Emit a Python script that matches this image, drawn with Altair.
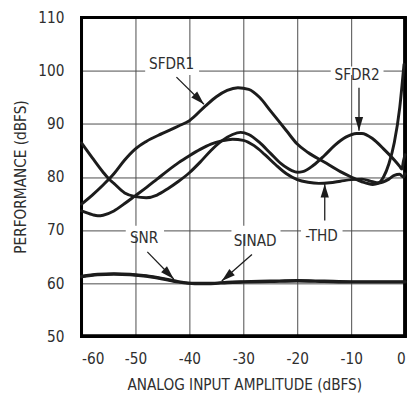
import altair as alt
import pandas as pd

FONT = "DejaVu Sans Condensed, Liberation Sans, sans-serif"
INK = "#1c1c1c"
TXT = "#2e2e2e"
FS = 15.5

# ---- series data ----
sfdr1_x = [-60, -58, -56, -54, -52, -50, -48, -45, -42, -40, -37, -35, -33, -31, -29, -27, -25, -22, -20, -18, -15, -12, -10, -8, -6, -5, -4, -3, -2, -1, -0.5, -0.2]
sfdr1_y = [74.9, 76.6, 78.5, 80.6, 83.2, 85.3, 86.7, 88.2, 89.6, 90.6, 93.4, 95.1, 96.3, 96.8, 96.5, 95.0, 92.5, 88.7, 86.2, 84.6, 82.8, 81.0, 80.0, 79.1, 78.6, 78.8, 80.0, 82.5, 86.5, 93.0, 98.0, 101.2]

sfdr2_x = [-60, -58, -56, -55, -54, -52, -50, -48, -46, -44, -42, -40, -38, -36, -34, -32, -30.5, -29, -27, -25, -23, -21, -20, -19, -17, -15, -13, -11, -9, -8, -6, -4, -2, -1, -0.6, -0.3, 0]
sfdr2_y = [86.4, 83.6, 80.9, 79.7, 78.8, 77.0, 76.3, 76.1, 76.6, 77.8, 79.2, 80.8, 82.8, 85.0, 86.8, 88.0, 88.4, 88.0, 86.5, 84.5, 82.5, 81.2, 80.9, 81.0, 82.2, 84.0, 86.0, 87.5, 88.2, 88.2, 87.2, 85.3, 83.2, 82.0, 81.5, 83.0, 84.2]

thd_x = [-60, -58, -57, -56, -54, -52, -50, -48, -46, -44, -42, -40, -38, -36, -34, -32, -30, -28, -26, -24, -22, -20, -18, -16, -14, -12, -10, -8, -6, -5, -3, -2, -1, -0.3, 0]
thd_y = [73.6, 72.9, 72.7, 72.8, 73.6, 75.0, 76.5, 78.0, 79.6, 81.2, 82.7, 84.0, 85.2, 86.2, 86.8, 87.1, 86.9, 85.9, 84.2, 82.3, 80.6, 79.5, 79.0, 78.8, 78.9, 79.2, 79.5, 79.6, 79.1, 78.9, 79.6, 80.3, 80.5, 80.0, 80.6]

snr_x = [-60, -57, -54, -51, -48, -45, -42, -39, -36, -33, -30, -25, -20, -15, -10, -5, 0]
snr_y = [61.3, 61.7, 61.8, 61.7, 61.4, 60.9, 60.3, 60.0, 60.0, 60.2, 60.3, 60.4, 60.5, 60.4, 60.3, 60.3, 60.3]
sinad_y = [61.2, 61.6, 61.7, 61.6, 61.3, 60.8, 60.2, 59.9, 59.9, 60.1, 60.2, 60.3, 60.4, 60.3, 60.2, 60.2, 60.2]

# ---- annotations (data units) ----
lab_text = ["SFDR1", "SFDR2", "SNR", "SINAD", "-THD"]
lab_x = [-43.3, -8.9, -48.4, -27.8, -15.5]
lab_y = [101.3, 99.2, 68.5, 67.9, 68.8]
gap_x1 = [-48.2, -13.8, -51.8, -32.2, -19.3]
gap_x2 = [-38.2, -4.0, -44.7, -23.1, -11.6]
gap_y1 = [99.2, 99.2, 69.2, 69.2, 69.2]
gap_y2 = [100.8, 100.8, 70.8, 70.8, 70.8]
arr_x1 = [-42.4, -8.55, -47.8, -28.4, -14.9]
arr_y1 = [98.8, 96.8, 65.9, 65.4, 71.8]
arr_x2 = [-37.3, -8.55, -42.9, -34.0, -14.9]
arr_y2 = [93.7, 88.7, 60.8, 60.4, 78.7]
arr_ang = [135, 180, 135, 229, 0]

rows = []
for name, xs, ys in [("SFDR1", sfdr1_x, sfdr1_y), ("SFDR2", sfdr2_x, sfdr2_y),
                     ("THD", thd_x, thd_y), ("SNR", snr_x, snr_y), ("SINAD", snr_x, sinad_y)]:
    for i, (x, y) in enumerate(zip(xs, ys)):
        rows.append({"series": name, "i": i, "x": x, "y": y})
df = pd.DataFrame(rows)

ann = pd.DataFrame({"t": lab_text, "lx": lab_x, "ly": lab_y,
                    "gx1": gap_x1, "gx2": gap_x2, "gy1": gap_y1, "gy2": gap_y2,
                    "ax1": arr_x1, "ay1": arr_y1, "ax2": arr_x2, "ay2": arr_y2, "ang": arr_ang})

xs = alt.Scale(domain=[-60, 0], nice=False, zero=False)
ys = alt.Scale(domain=[50, 110], nice=False, zero=False)

x_axis = alt.Axis(values=[-60, -50, -40, -30, -20, -10, 0], title="ANALOG INPUT AMPLITUDE (dBFS)",
                  grid=True, gridColor="#4a4a4a", gridWidth=1, gridOpacity=1,
                  domain=False, ticks=False, tickSize=0, labelPadding=23, labelBaseline="middle",
                  labelExpr="'' + datum.value", labelFont=FONT, labelFontSize=FS, labelColor=TXT,
                  titleFont=FONT, titleFontSize=FS, titleFontWeight="normal", titleColor=TXT,
                  titleX=166, titleY=49, titleBaseline="middle", titleAlign="center")
y_axis = alt.Axis(values=[50, 60, 70, 80, 90, 100, 110], title="PERFORMANCE (dBFS)",
                  grid=True, gridColor="#4a4a4a", gridWidth=1, gridOpacity=1,
                  domain=False, ticks=False, tickSize=0, labelPadding=18, labelAlign="right",
                  labelBaseline="middle", labelFont=FONT, labelFontSize=FS, labelColor=TXT,
                  titleFont=FONT, titleFontSize=FS, titleFontWeight="normal", titleColor=TXT,
                  titleX=-62, titleY=162, titleBaseline="middle", titleAlign="center", titleAngle=270)

lines = alt.Chart(df).mark_line(interpolate="monotone", strokeWidth=3, color=INK, strokeCap="round").encode(
    x=alt.X("x:Q", scale=xs, axis=x_axis),
    y=alt.Y("y:Q", scale=ys, axis=y_axis),
    detail="series:N",
    order="i:Q",
)

gaps = alt.Chart(ann).mark_rect(color="white").encode(
    x="gx1:Q", x2="gx2:Q", y="gy1:Q", y2="gy2:Q")

labels = alt.Chart(ann).mark_text(font=FONT, fontSize=FS, color=TXT, align="center", baseline="middle").encode(
    x="lx:Q", y="ly:Q", text="t:N")

shafts = alt.Chart(ann).mark_rule(color=INK, strokeWidth=1.3).encode(
    x="ax1:Q", y="ay1:Q", x2="ax2:Q", y2="ay2:Q")

heads = alt.Chart(ann).mark_point(shape="M0,0L-0.6,2L0.6,2Z", filled=True, color=INK, opacity=1,
                                  size=196).encode(
    x="ax2:Q", y="ay2:Q", angle=alt.Angle("ang:Q", scale=None))

frame = alt.Chart(ann).mark_rect(fillOpacity=0, stroke="black", strokeWidth=3).encode(
    x=alt.datum(-60), x2=alt.datum(0), y=alt.datum(50), y2=alt.datum(110))

chart = alt.layer(gaps, frame, lines, shafts, heads, labels).properties(
    width=330, height=325,
    padding={"left": 75, "top": 6, "right": 5, "bottom": 55},
    autosize="none",
).configure_view(stroke=None).configure(background="white")

chart.save("out.html", embed_options={"renderer": "svg", "actions": False})
